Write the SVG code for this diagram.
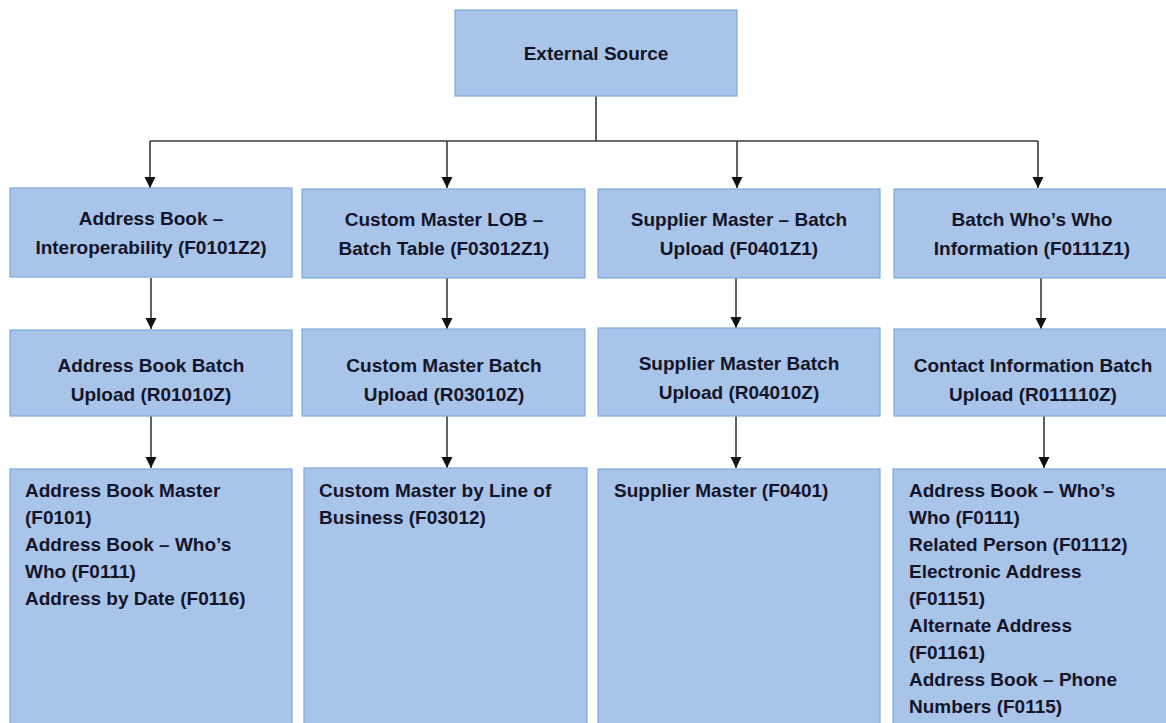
<svg xmlns="http://www.w3.org/2000/svg" width="1166" height="723" viewBox="0 0 1166 723">
<style>
.box{fill:#a9c4e9;stroke:#7ea9dc;stroke-width:1.2}
.t{font-family:"Liberation Sans",Arial,sans-serif;font-weight:bold;font-size:19px;fill:#141428}
.c{text-anchor:middle}
.ln{stroke:#3a3a3a;stroke-width:1.6;fill:none}
</style>
<defs>
<marker id="ah" markerWidth="12" markerHeight="12" refX="11" refY="6" orient="auto" markerUnits="userSpaceOnUse">
<path d="M0,0.5 L11,6 L0,11.5 z" fill="#111"/>
</marker>
</defs>
<rect width="1166" height="723" fill="#fff"/>
<g id="connectors">
<path class="ln" d="M596,96 V141"/>
<path class="ln" d="M150,141 H1038"/>
<path class="ln" d="M150,141 V188" marker-end="url(#ah)"/>
<path class="ln" d="M447,141 V188" marker-end="url(#ah)"/>
<path class="ln" d="M737,141 V188" marker-end="url(#ah)"/>
<path class="ln" d="M1038,141 V188" marker-end="url(#ah)"/>
<path class="ln" d="M151,278 V329" marker-end="url(#ah)"/>
<path class="ln" d="M447,278 V329" marker-end="url(#ah)"/>
<path class="ln" d="M736,278 V328" marker-end="url(#ah)"/>
<path class="ln" d="M1041,278 V329" marker-end="url(#ah)"/>
<path class="ln" d="M151,416 V468" marker-end="url(#ah)"/>
<path class="ln" d="M447,416 V468" marker-end="url(#ah)"/>
<path class="ln" d="M736,416 V468" marker-end="url(#ah)"/>
<path class="ln" d="M1044,416 V468" marker-end="url(#ah)"/>
</g>
<g id="external-source">
<rect class="box" x="455" y="10" width="282" height="86"/>
<text class="t c" x="596" y="60">External Source</text>
</g>
<g id="ab-interop">
<rect class="box" x="10" y="188" width="282" height="89"/>
<text class="t c" x="151" y="225">Address Book –</text>
<text class="t c" x="151" y="254">Interoperability (F0101Z2)</text>
</g>
<g id="cm-lob">
<rect class="box" x="302" y="189" width="283" height="89"/>
<text class="t c" x="444" y="226">Custom Master LOB –</text>
<text class="t c" x="444" y="255">Batch Table (F03012Z1)</text>
</g>
<g id="sm-batch">
<rect class="box" x="598" y="189" width="282" height="89"/>
<text class="t c" x="739" y="226">Supplier Master – Batch</text>
<text class="t c" x="739" y="255">Upload (F0401Z1)</text>
</g>
<g id="whoswho-batch">
<rect class="box" x="894" y="189" width="280" height="89"/>
<text class="t c" x="1032" y="226">Batch Who’s Who</text>
<text class="t c" x="1032" y="255">Information (F0111Z1)</text>
</g>
<g id="ab-upload">
<rect class="box" x="10" y="330" width="282" height="86"/>
<text class="t c" x="151" y="372">Address Book Batch</text>
<text class="t c" x="151" y="401">Upload (R01010Z)</text>
</g>
<g id="cm-upload">
<rect class="box" x="302" y="329" width="283" height="87"/>
<text class="t c" x="444" y="372">Custom Master Batch</text>
<text class="t c" x="444" y="401">Upload (R03010Z)</text>
</g>
<g id="sm-upload">
<rect class="box" x="598" y="328" width="282" height="88"/>
<text class="t c" x="739" y="370">Supplier Master Batch</text>
<text class="t c" x="739" y="399">Upload (R04010Z)</text>
</g>
<g id="contact-upload">
<rect class="box" x="894" y="329" width="280" height="87"/>
<text class="t c" x="1033" y="372">Contact Information Batch</text>
<text class="t c" x="1033" y="401">Upload (R011110Z)</text>
</g>
<g id="ab-tables">
<rect class="box" x="10" y="469" width="282" height="260"/>
<text class="t" x="25" y="497">Address Book Master</text>
<text class="t" x="25" y="524">(F0101)</text>
<text class="t" x="25" y="551">Address Book – Who’s</text>
<text class="t" x="25" y="578">Who (F0111)</text>
<text class="t" x="25" y="605">Address by Date (F0116)</text>
</g>
<g id="cm-tables">
<rect class="box" x="304" y="468" width="283" height="260"/>
<text class="t" x="319" y="497">Custom Master by Line of</text>
<text class="t" x="319" y="524">Business (F03012)</text>
</g>
<g id="sm-tables">
<rect class="box" x="598" y="469" width="282" height="260"/>
<text class="t" x="614" y="497">Supplier Master (F0401)</text>
</g>
<g id="contact-tables">
<rect class="box" x="893" y="469" width="281" height="260"/>
<text class="t" x="909" y="497">Address Book – Who’s</text>
<text class="t" x="909" y="524">Who (F0111)</text>
<text class="t" x="909" y="551">Related Person (F01112)</text>
<text class="t" x="909" y="578">Electronic Address</text>
<text class="t" x="909" y="605">(F01151)</text>
<text class="t" x="909" y="632">Alternate Address</text>
<text class="t" x="909" y="659">(F01161)</text>
<text class="t" x="909" y="686">Address Book – Phone</text>
<text class="t" x="909" y="713">Numbers (F0115)</text>
</g>
</svg>
